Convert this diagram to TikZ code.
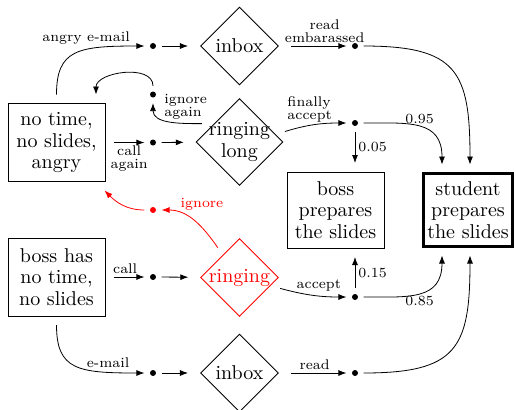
\documentclass[tikz,border=0pt]{standalone}
\usetikzlibrary{shapes.geometric,arrows.meta}
\begin{document}
\begin{tikzpicture}[x=0.5pt,y=-0.5pt,
  box/.style={draw, rectangle, align=center, minimum width=48.5pt, minimum height=39pt, inner sep=0pt, outer sep=4.5pt, font=\fontsize{10}{10.75}\selectfont},
  dia/.style={draw, diamond, aspect=1, align=center, inner sep=0pt, outer sep=4.5pt, minimum width=42.5pt, minimum height=42.5pt, font=\fontsize{10}{10.75}\selectfont},
  dot/.style={circle, fill, inner sep=0pt, minimum size=3pt, outer sep=2.8pt},
  arr/.style={-{Latex[length=4pt,width=3pt]}},
  lab/.style={font=\fontsize{7}{6.5}\selectfont, inner sep=1.5pt}]
\useasboundingbox (0,0) rectangle (516,409);

\node[box] (A) at (56.5,142.5) {no time,\\no slides,\\angry};
\node[box] (B) at (56.5,277) {boss has\\no time,\\no slides};
\node[box, minimum height=38pt] (C) at (335.5,210) {boss\\prepares\\the slides};
\node[box, minimum width=44.5pt, minimum height=36.5pt, line width=1.5pt] (D) at (468,210) {student\\prepares\\the slides};

\node[dia] (I1) at (239.5,46) {inbox};
\node[dia, inner sep=-3pt, minimum width=47pt, minimum height=47pt] (RL) at (239.5,142) {ringing\\long};
\node[dia, red] (R) at (239.5,277.5) {ringing};
\node[dia] (I2) at (239.5,373) {inbox};

\node[dot] (d1) at (153,46) {};
\node[dot] (d2) at (153,94.5) {};
\node[dot] (d3) at (153,142.5) {};
\node[dot, red] (d4) at (153,210) {};
\node[dot] (d5) at (153,277) {};
\node[dot] (d6) at (153,373) {};
\node[dot] (e1) at (355,46) {};
\node[dot] (e2) at (355,123) {};
\node[dot] (e3) at (355,297) {};
\node[dot] (e4) at (355,373) {};

\draw[arr] (A.north) .. controls +(0,-45) and +(-75,0) .. (d1) node[lab,pos=0.7,above,xshift=-5pt]{angry e-mail};
\draw[arr] (A) -- node[lab,below,align=center]{call\\again} (d3);
\draw[arr] (d3) -- (RL);
\draw[arr] (RL.154) to[out=180,in=-90] node[lab,pos=1,anchor=west,align=left,xshift=4pt,yshift=-2pt]{ignore\\again} (d2);
\draw[arr] (d2) to[out=90,in=90] ([xshift=-9pt]A.north east);
\draw[arr] (d1) -- (I1);
\draw[arr] (I1) -- node[lab,above,align=center,xshift=3pt]{read\\embarassed} (e1);
\draw[arr] (e1) to[out=0,in=90,looseness=1.5] ([xshift=1pt]D.north);
\draw[arr] (RL.13) to[out=17,in=180] node[lab,pos=0.4,above,align=left]{finally\\accept} (e2);
\draw[arr] (e2) to[out=0,in=90,looseness=1.3] node[lab,pos=0.5,above]{0.95} ([xshift=-13pt]D.north);
\draw[arr] (e2) -- node[lab,right]{0.05} (e2 |- C.north);
\draw[arr, red] (R.126) to[out=125,in=0] node[lab,pos=0.72,anchor=south west,xshift=-2pt]{ignore} (d4);
\draw[arr, red] (d4) to[out=180,in=-45] (A);
\draw[arr] (B) -- node[lab,above,xshift=-2pt]{call} (d5);
\draw[arr] (d5) -- (R);
\draw[arr] (R.-15) to[out=-15,in=180] node[lab,pos=0.45,above,xshift=4.5pt]{accept} (e3);
\draw[arr] (e3) -- node[lab,right]{0.15} (e3 |- C.south);
\draw[arr] (e3) to[out=0,in=-90,looseness=1.3] node[lab,pos=0.5,below]{0.85} ([xshift=-13pt]D.south);
\draw[arr] (B.south) .. controls +(0,45) and +(-75,0) .. (d6) node[lab,pos=0.7,above,xshift=6pt]{e-mail};
\draw[arr] (d6) -- (I2);
\draw[arr] (I2) -- node[lab,above,xshift=-2pt]{read} (e4);
\draw[arr] (e4) to[out=0,in=-90,looseness=1.5] ([xshift=1pt]D.south);
\end{tikzpicture}
\end{document}
